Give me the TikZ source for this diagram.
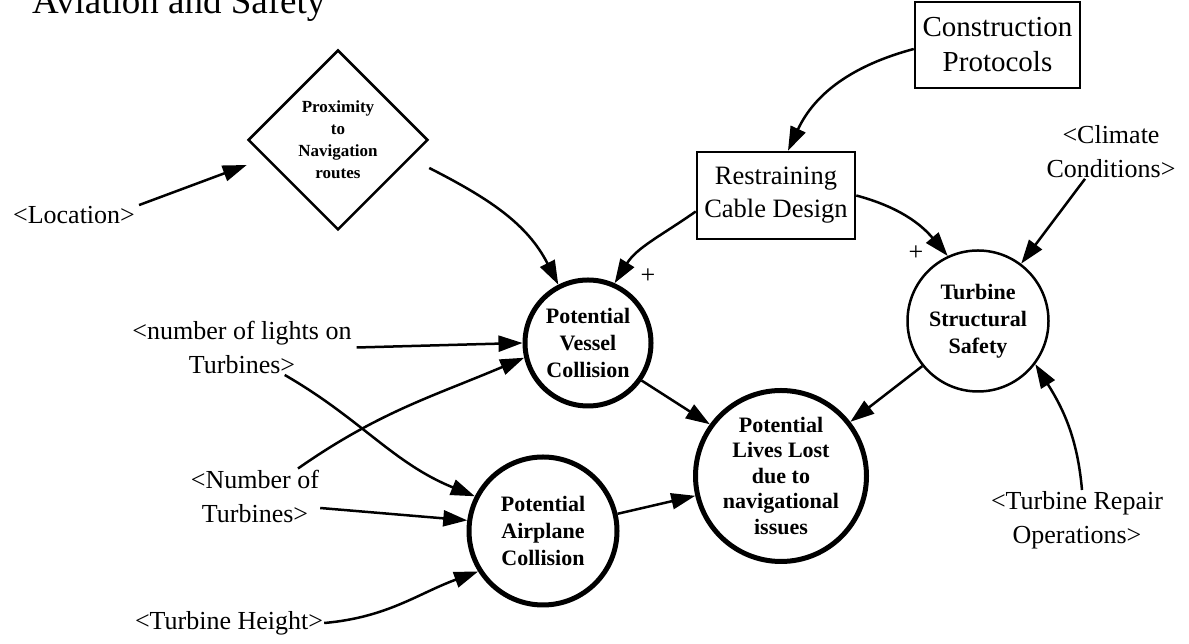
\documentclass[tikz,border=0pt]{standalone}
\usepackage{fontspec}
\setmainfont{Liberation Serif}
\usetikzlibrary{shapes.geometric,arrows.meta}

\begin{document}
\begin{tikzpicture}[x=1pt,y=1pt,
  shadowvar/.style={align=center, inner sep=1pt, font=\fontsize{26}{34}\selectfont},
  varcircle/.style={circle, draw, line width=5pt, inner sep=-30pt, align=center,
                    font=\fontsize{22}{27}\selectfont\bfseries},
  levelbox/.style={draw, line width=2.5pt, inner sep=0pt, align=center},
  infl/.style={-{Triangle[length=24pt,width=16pt]}, line width=2.5pt},
  polarity/.style={inner sep=0pt, font=\fontsize{26}{26}\selectfont}]

  \useasboundingbox (0,0) rectangle (1189,644);

  % ══ TITLE ═════════════════════════════════════════════════════
  \node[anchor=base west, inner sep=0pt, font=\fontsize{37}{40}\selectfont] (title) at (32,630)
    {Aviation and Safety};

  % ══ MAIN VARIABLES ════════════════════════════════════════════
  \node[diamond, draw, line width=2.5pt, aspect=1,
        minimum width=180pt, minimum height=180pt, inner sep=0pt, align=center,
        font=\fontsize{17}{22}\selectfont\bfseries] (prox) at (338,504)
    {Proximity\\to\\Navigation\\routes};

  \node[levelbox, minimum width=165pt, minimum height=86pt,
        font=\fontsize{29}{35}\selectfont] (construct) at (997.5,599)
    {Construction\\Protocols};

  \node[levelbox, minimum width=158pt, minimum height=87pt,
        font=\fontsize{26.5}{33}\selectfont] (restrain) at (776,448.5)
    {Restraining\\Cable Design};

  \node[varcircle, minimum size=126pt] (vessel) at (588,301)
    {Potential\\Vessel\\Collision};

  \node[varcircle, minimum size=171pt, font=\fontsize{22}{25.5}\selectfont\bfseries] (lives) at (781,168)
    {Potential\\Lives Lost\\due to\\navigational\\issues};

  \node[varcircle, minimum size=148pt] (airplane) at (543,113)
    {Potential\\Airplane\\Collision};

  \node[varcircle, line width=2.5pt, minimum size=141pt] (tss) at (978,323)
    {Turbine\\Structural\\Safety};

  % ══ SHADOW VARIABLES ══════════════════════════════════════════
  \node[shadowvar] (location) at (74,429)   {<Location>};
  \node[shadowvar] (lights)   at (242,296.5) {<number of lights on\\Turbines>};
  \node[shadowvar] (numturb)  at (255,148)  {<Number of\\Turbines>};
  \node[shadowvar] (height)   at (229,21)   {<Turbine Height>};
  \node[shadowvar] (climate)  at (1111,492.5) {<Climate\\Conditions>};
  \node[shadowvar] (repair)   at (1077,124) {<Turbine Repair\\Operations>};

  % ══ LINKS ═════════════════════════════════════════════════════
  \draw[infl] ([xshift=3pt]location.north east) -- ([yshift=-25pt]prox.west);
  \draw[infl] ([yshift=-28pt]prox.east) to[out=-27,in=117] (vessel.117);
  \draw[infl] ([yshift=-4pt]construct.west) to[out=195,in=65] ([xshift=12pt]restrain.north);
  \draw[infl] ([yshift=-16pt]restrain.west) to[out=215,in=58] (vessel.66);
  \draw[infl] (restrain.east) to[out=-15,in=130] (tss.115);
  \draw[infl] ([xshift=-26pt]climate.south) -- (tss.53);
  \draw[infl] ([xshift=5pt]repair.north) to[out=95,in=-58] (tss.-37);
  \draw[infl] (tss.219) -- (lives.38);
  \draw[infl] (vessel.-35) -- (lives.144);
  \draw[infl] (airplane.13) -- (lives.193);

  \draw[infl] ([xshift=4pt]lights.east) -- (vessel.180);
  \draw[infl] ([xshift=43pt]numturb.north) to[out=35,in=203] (vessel.193);
  \draw[infl] ([xshift=-68pt]lights.south east) to[out=-30,in=158] (airplane.153);
  \draw[infl] ([yshift=-12pt]numturb.east) -- (airplane.172);
  \draw[infl] (height.east) to[out=5,in=200] (airplane.212);

  % ══ POLARITIES ════════════════════════════════════════════════
  \node[polarity] (plusv) at (648,368) {+};
  \node[polarity] (plust) at (916,391) {+};

\end{tikzpicture}
\end{document}
